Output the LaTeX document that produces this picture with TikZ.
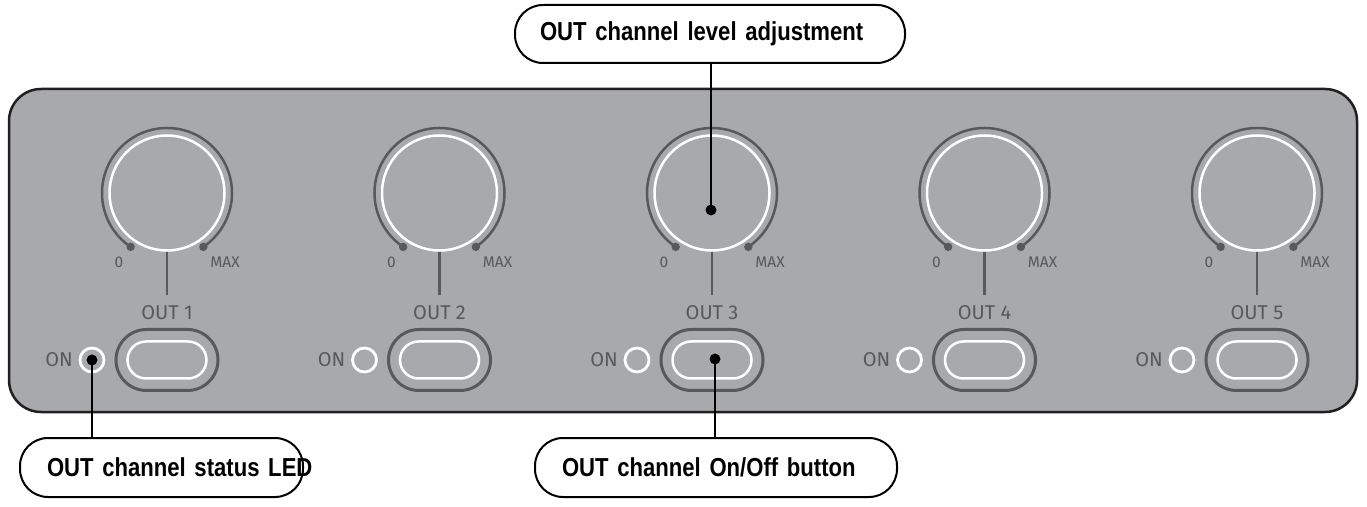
\documentclass[tikz,border=0pt]{standalone}
\usepackage{fontspec}
\setmainfont{Fira Sans}
\newfontfamily\calloutfont[FakeStretch=0.85]{Liberation Sans}
\usetikzlibrary{shapes.misc,calc}

\definecolor{panelgray}{HTML}{A7A9AC}
\definecolor{paneledge}{HTML}{231F20}
\definecolor{partgray}{HTML}{58595B}

\tikzset{
  panelbody/.style={draw=paneledge, line width=2.5pt, fill=panelgray, rounded corners=32pt},
  knobface/.style={circle, draw=white, line width=2.5pt, minimum size=115pt, inner sep=0pt},
  knobscale/.style={draw=partgray, line width=2.5pt},
  scaledot/.style={fill=partgray, draw=none},
  stemline/.style={draw=partgray, line width=2.2pt},
  btnouter/.style={rounded rectangle, draw=partgray, line width=3pt, minimum width=102pt, minimum height=61pt, inner sep=0pt},
  btninner/.style={rounded rectangle, draw=white, line width=2.5pt, minimum width=79pt, minimum height=37pt, inner sep=0pt},
  ledring/.style={circle, draw=white, line width=2.8pt, minimum size=24pt, inner sep=0pt},
  paneltext/.style={text=partgray, inner sep=0pt, font=\fontsize{20}{22}\selectfont},
  smalltext/.style={text=partgray, inner sep=0pt, font=\fontsize{15.5}{17}\selectfont},
  callout/.style={draw=black, line width=2pt, fill=white, rounded corners=28pt,
    inner ysep=0pt, align=left, font=\calloutfont\bfseries\fontsize{26}{28}\selectfont},
  callline/.style={draw=black, line width=2.2pt},
  calldot/.style={fill=black, draw=none},
}

\begin{document}
\begin{tikzpicture}[x=1pt, y=1pt]
\useasboundingbox (0,0) rectangle (1367,506);

% front panel
\path[panelbody] (9,94) rectangle (1357,417);

% five output channels: level knob, label, on/off button and status LED
\foreach \i/\x in {1/167, 2/439.5, 3/712, 4/984.5, 5/1257} {
  \node[knobface] (knob\i) at (\x,313) {};
  \draw[knobscale] ($(knob\i)+(236:65)$) arc[start angle=236, end angle=-56, radius=65];
  \fill[scaledot] ($(knob\i)+(236:65)$) circle (4.2);
  \fill[scaledot] ($(knob\i)+(-56:65)$) circle (4.2);
  \node[smalltext] (zero\i) at (\x-48,244) {0};
  \node[smalltext] (max\i) at (\x+58,244) {MAX};
  \coordinate (stem\i) at (\x,211);
  \draw[stemline] (knob\i.south) -- (stem\i);
  \node[paneltext] (out\i) at (\x,193) {OUT \i};
  \node[btnouter] (btn\i) at (\x,146) {};
  \node[btninner] (btnface\i) at (\x,146) {};
  \node[ledring] (led\i) at (\x-75,146) {};
  \node[paneltext, anchor=east] (on\i) at ($(led\i)+(-19,0)$) {ON};
}

% callouts
\node[callout, minimum height=58pt, inner xsep=25pt, text width=340pt] (levelbox) at (710,472)
  {\mbox{OUT channel level adjustment}};
\node[callout, minimum height=59pt, inner xsep=27pt, text width=229pt] (ledbox) at (161.5,38.5)
  {\mbox{OUT channel status LED}};
\node[callout, minimum height=59pt, inner xsep=27pt, text width=308pt] (btnbox) at (716,38.5)
  {\mbox{OUT channel On/Off button}};

\coordinate (levelpt) at (711,296);
\coordinate (ledpt) at (led1.center);
\coordinate (btnpt) at (715,147);

\draw[callline] (levelbox.south -| levelpt) -- (levelpt);
\fill[calldot] (levelpt) circle (5.5);
\draw[callline] (ledpt) -- (ledbox.north -| ledpt);
\fill[calldot] (ledpt) circle (5.5);
\draw[callline] (btnpt) -- (btnbox.north -| btnpt);
\fill[calldot] (btnpt) circle (5.5);
\end{tikzpicture}
\end{document}
